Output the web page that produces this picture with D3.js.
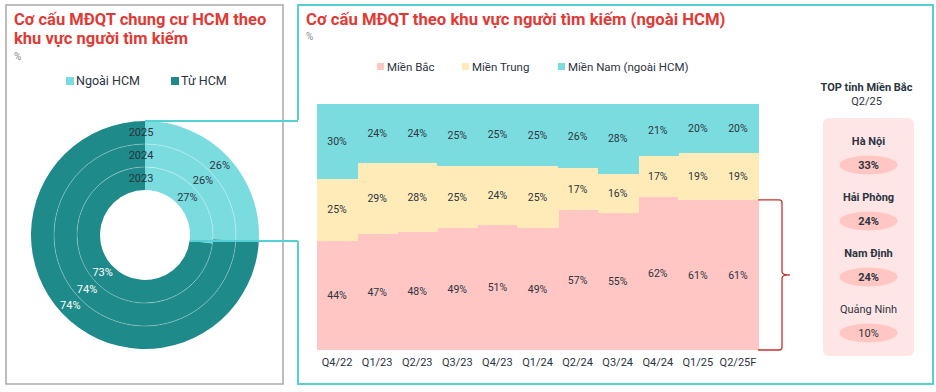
<!DOCTYPE html>
<html>
<head>
<meta charset="utf-8">
<script src="https://cdn.jsdelivr.net/npm/d3@7"></script>
<style>
  body { margin: 0; background: #fff; }
  svg { font-family: Roboto, "Noto Sans", sans-serif; display: block; }
</style>
</head>
<body>
<svg id="chart" width="936" height="392"></svg>
<script>
// Donut: share of searches by origin, per year (inner ring = 2023)
var years = ["2023", "2024", "2025"];
var ngoaiHCM = [27, 26, 26];
var tuHCM = [73, 74, 74];

// Stacked bars: regions outside HCM
var quarters = ["Q4/22", "Q1/23", "Q2/23", "Q3/23", "Q4/23", "Q1/24", "Q2/24", "Q3/24", "Q4/24", "Q1/25", "Q2/25F"];
var mienBac = [44, 47, 48, 49, 51, 49, 57, 55, 62, 61, 61];
var mienTrung = [25, 29, 28, 25, 24, 25, 17, 16, 17, 19, 19];
var mienNam = [30, 24, 24, 25, 25, 25, 26, 28, 21, 20, 20];

// Top northern provinces Q2/25
var provinces = ["Hà Nội", "Hải Phòng", "Nam Định", "Quảng Ninh"];
var provinceShares = [33, 24, 24, 10];

var colors = {
    light: "#7bdce0",
    dark: "#1f8a8a",
    bac: "#ffc6c3",
    trung: "#ffebb8",
    nam: "#7bdce0",
    red: "#e03a36",
    teal: "#55d0d4",
    text: "#2b3440"
};

var svg = d3.select("#chart");

// ---------- Left panel ----------

svg.append("rect")
    .attr("x", 6).attr("y", 5)
    .attr("width", 277).attr("height", 379)
    .attr("fill", "none")
    .attr("stroke", "#a8a8a8")
    .attr("stroke-width", 1.5);

var leftTitle = svg.append("text")
    .attr("x", 14).attr("y", 25)
    .attr("fill", colors.red)
    .style("font-size", "16.5px")
    .style("font-weight", "bold");
leftTitle.append("tspan").attr("x", 14).text("Cơ cấu MĐQT chung cư HCM theo");
leftTitle.append("tspan").attr("x", 14).attr("dy", 19).text("khu vực người tìm kiếm");

svg.append("text")
    .attr("x", 14).attr("y", 60)
    .attr("fill", "#888")
    .style("font-size", "10px")
    .text("%");

var leftLegend = [
    { name: "Ngoài HCM", color: colors.light, x: 66 },
    { name: "Từ HCM", color: colors.dark, x: 171 }
];
var ll = svg.selectAll(".leftLegend")
    .data(leftLegend)
    .enter().append("g")
    .attr("class", "leftLegend")
    .attr("transform", function(d) { return "translate(" + d.x + ", 81)"; });
ll.append("rect")
    .attr("x", 0).attr("y", -4)
    .attr("width", 8).attr("height", 8)
    .attr("fill", function(d) { return d.color; });
ll.append("text")
    .attr("x", 10).attr("y", 0)
    .attr("dy", "0.35em")
    .attr("fill", colors.text)
    .style("font-size", "12.5px")
    .text(function(d) { return d.name; });

// donut rings
var cx = 145, cy = 235;
var rInner = 45, ringWidth = 23;

var ring = d3.scaleBand()
    .domain(years)
    .range([rInner, rInner + ringWidth * years.length]);

var pie = d3.pie().sort(null).value(function(d) { return d.value; });

var donut = svg.append("g").attr("transform", "translate(" + cx + "," + cy + ")");

years.forEach(function(year, i) {
    var slices = pie([
        { key: "ngoai", value: ngoaiHCM[i] },
        { key: "tu", value: tuHCM[i] }
    ]);
    var arc = d3.arc()
        .innerRadius(ring(year))
        .outerRadius(ring(year) + ring.bandwidth());

    donut.selectAll(".slice" + year)
        .data(slices)
        .enter().append("path")
        .attr("d", arc)
        .attr("fill", function(d) { return d.data.key === "ngoai" ? colors.light : colors.dark; });

    donut.selectAll(".label" + year)
        .data(slices)
        .enter().append("text")
        .attr("transform", function(d) { return "translate(" + arc.centroid(d) + ")"; })
        .attr("text-anchor", "middle")
        .attr("dy", "0.35em")
        .attr("fill", function(d) { return d.data.key === "ngoai" ? colors.text : "#fff"; })
        .style("font-size", "11px")
        .text(function(d) { return d.data.value + "%"; });

    donut.append("text")
        .attr("x", -4)
        .attr("y", -(ring(year) + ring.bandwidth() / 2))
        .attr("text-anchor", "middle")
        .attr("dy", "0.35em")
        .attr("fill", colors.text)
        .style("font-size", "11px")
        .text(year);
});

// faint ring separators
donut.selectAll(".sep")
    .data(years.slice(1))
    .enter().append("circle")
    .attr("r", function(d) { return ring(d); })
    .attr("fill", "none")
    .attr("stroke", "#fff")
    .attr("stroke-opacity", 0.35)
    .attr("stroke-width", 0.8);

// ---------- Right panel ----------

var outerR = rInner + ringWidth * years.length;
var frame = d3.path();
frame.moveTo(298, 241);
frame.lineTo(298, 384);
frame.lineTo(933, 384);
frame.lineTo(933, 5);
frame.lineTo(298, 5);
frame.lineTo(298, 120);
svg.append("path")
    .attr("d", frame.toString())
    .attr("fill", "none")
    .attr("stroke", colors.teal)
    .attr("stroke-width", 2);

// callout lines from the donut
svg.append("line")
    .attr("x1", cx).attr("y1", cy - outerR)
    .attr("x2", 298).attr("y2", cy - outerR)
    .attr("stroke", colors.teal).attr("stroke-width", 2);
svg.append("line")
    .attr("x1", cx + rInner).attr("y1", 241)
    .attr("x2", 298).attr("y2", 241)
    .attr("stroke", colors.teal).attr("stroke-width", 2);

svg.append("text")
    .attr("x", 306).attr("y", 25)
    .attr("fill", colors.red)
    .style("font-size", "16.7px")
    .style("font-weight", "bold")
    .text("Cơ cấu MĐQT theo khu vực người tìm kiếm (ngoài HCM)");

svg.append("text")
    .attr("x", 306).attr("y", 40)
    .attr("fill", "#888")
    .style("font-size", "10px")
    .text("%");

var rightLegend = [
    { name: "Miền Bắc", color: colors.bac, x: 377 },
    { name: "Miền Trung", color: colors.trung, x: 462 },
    { name: "Miền Nam (ngoài HCM)", color: colors.nam, x: 558 }
];
var rl = svg.selectAll(".rightLegend")
    .data(rightLegend)
    .enter().append("g")
    .attr("class", "rightLegend")
    .attr("transform", function(d) { return "translate(" + d.x + ", 67)"; });
rl.append("rect")
    .attr("x", 0).attr("y", -4)
    .attr("width", 7).attr("height", 7)
    .attr("fill", function(d) { return d.color; });
rl.append("text")
    .attr("x", 10).attr("y", 0)
    .attr("dy", "0.35em")
    .attr("fill", colors.text)
    .style("font-size", "11.5px")
    .text(function(d) { return d.name; });

// stacked 100% bars
var rows = quarters.map(function(q, i) {
    return { quarter: q, bac: mienBac[i], trung: mienTrung[i], nam: mienNam[i] };
});
var keys = ["bac", "trung", "nam"];

var stack = d3.stack()
    .keys(keys)
    .offset(d3.stackOffsetExpand);
var series = stack(rows);

var x = d3.scaleBand()
    .domain(quarters)
    .range([317, 758])
    .padding(0);

var y = d3.scaleLinear()
    .domain([0, 1])
    .range([350, 104]);

var layer = svg.selectAll(".layer")
    .data(series)
    .enter().append("g")
    .attr("class", "layer")
    .attr("fill", function(d) { return colors[d.key]; })
    .attr("shape-rendering", "crispEdges");

layer.selectAll("rect")
    .data(function(d) { return d; })
    .enter().append("rect")
    .attr("x", function(d) { return x(d.data.quarter); })
    .attr("width", x.bandwidth() + 1)
    .attr("y", function(d) { return y(d[1]); })
    .attr("height", function(d) { return y(d[0]) - y(d[1]); });

series.forEach(function(s) {
    svg.selectAll(".val-" + s.key)
        .data(s)
        .enter().append("text")
        .attr("x", function(d) { return x(d.data.quarter) + x.bandwidth() / 2; })
        .attr("y", function(d) { return (y(d[0]) + y(d[1])) / 2; })
        .attr("text-anchor", "middle")
        .attr("dy", "0.35em")
        .attr("fill", colors.text)
        .style("font-size", "10.5px")
        .text(function(d) { return d.data[s.key] + "%"; });
});

var xAxis = svg.append("g")
    .attr("transform", "translate(0, 350)")
    .call(d3.axisBottom(x).tickSize(0).tickPadding(8));
xAxis.select(".domain").remove();
xAxis.selectAll("text")
    .attr("fill", colors.text)
    .style("font-size", "11px")
    .style("font-family", "Roboto, sans-serif");

// brace around Miền Bắc of the last bar
var last = series[0][series[0].length - 1];
var bTop = y(last[1]), bBot = y(last[0]), bMid = (bTop + bBot) / 2;
var bx0 = x.range()[1], bx1 = bx0 + 24;
var brace = d3.path();
brace.moveTo(bx0, bTop);
brace.lineTo(bx1 - 3, bTop);
brace.quadraticCurveTo(bx1, bTop, bx1, bTop + 3);
brace.lineTo(bx1, bMid - 3);
brace.quadraticCurveTo(bx1, bMid, bx1 + 8, bMid);
brace.moveTo(bx1 + 8, bMid);
brace.quadraticCurveTo(bx1, bMid, bx1, bMid + 3);
brace.lineTo(bx1, bBot - 3);
brace.quadraticCurveTo(bx1, bBot, bx1 - 3, bBot);
brace.lineTo(bx0, bBot);
svg.append("path")
    .attr("d", brace.toString())
    .attr("fill", "none")
    .attr("stroke", "#c8302c")
    .attr("stroke-width", 1.3);

// top provinces box
var boxX = 823, boxW = 91, boxCx = boxX + boxW / 2;

svg.append("text")
    .attr("x", boxCx - 2).attr("y", 91)
    .attr("text-anchor", "middle")
    .attr("fill", colors.text)
    .style("font-size", "11px")
    .style("font-weight", "bold")
    .text("TOP tỉnh Miền Bắc");
svg.append("text")
    .attr("x", boxCx - 2).attr("y", 105)
    .attr("text-anchor", "middle")
    .attr("fill", colors.text)
    .style("font-size", "11px")
    .text("Q2/25");

svg.append("rect")
    .attr("x", boxX).attr("y", 118)
    .attr("width", boxW).attr("height", 238)
    .attr("rx", 6)
    .attr("fill", "#ffe6e6");

var py = d3.scalePoint()
    .domain(provinces)
    .range([141, 309]);

var item = svg.selectAll(".province")
    .data(provinces)
    .enter().append("g")
    .attr("class", "province")
    .attr("transform", function(d) { return "translate(" + boxCx + "," + py(d) + ")"; });

item.append("text")
    .attr("text-anchor", "middle")
    .attr("dy", "0.35em")
    .attr("fill", colors.text)
    .style("font-size", "11px")
    .style("font-weight", function(d, i) { return i < 3 ? "bold" : "normal"; })
    .text(function(d) { return d; });

item.append("ellipse")
    .attr("cy", 24)
    .attr("rx", 29).attr("ry", 9.5)
    .attr("fill", colors.bac);

item.append("text")
    .attr("y", 24)
    .attr("text-anchor", "middle")
    .attr("dy", "0.35em")
    .attr("fill", colors.text)
    .style("font-size", "11px")
    .style("font-weight", function(d, i) { return i < 3 ? "bold" : "normal"; })
    .text(function(d, i) { return provinceShares[i] + "%"; });
</script>
</body>
</html>
